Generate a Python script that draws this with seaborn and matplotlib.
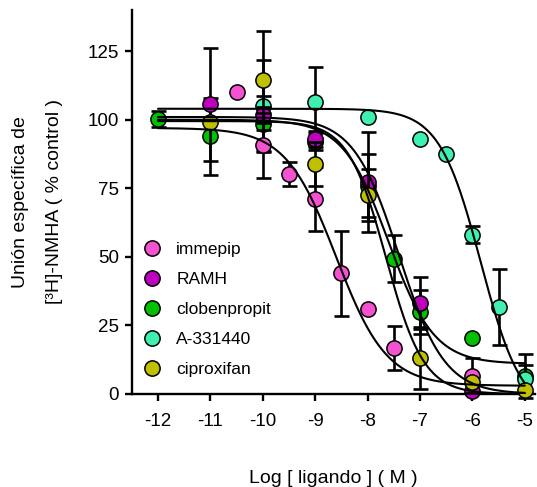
import numpy as np
import pandas as pd
import matplotlib
matplotlib.use("Agg")
import matplotlib.pyplot as plt
import seaborn as sns
from matplotlib.lines import Line2D

# ---------------- data ----------------
compounds = ["immepip", "RAMH", "clobenpropit", "A-331440", "ciproxifan"]
colors = ["#F552D2", "#C000C0", "#00C000", "#40F0B0", "#C0C000"]

immepip_x = [-10.5, -10, -9.5, -9, -8.5, -8, -7.5, -6]
immepip_y = [110, 90.6, 80.3, 71.2, 44, 31, 16.7, 6.7]
immepip_err = [0, 12, 4.3, 11.6, 15.4, 0, 8, 6.4]

ramh_x = [-11, -10, -9, -8, -7, -6]
ramh_y = [105.6, 101.8, 93, 77.2, 33.1, 1.2]
ramh_err = [20.7, 3, 3, 18.2, 9.5, 0]

clob_x = [-12, -11, -10, -9, -8, -7.5, -7, -6, -5]
clob_y = [100.3, 94, 98.5, 92, 76, 49.3, 29.8, 20.3, 6.7]
clob_err = [3, 14, 10, 3, 11.5, 8.6, 8, 0, 8]

a331_x = [-10, -9, -8, -7, -6.5, -6, -5.5, -5]
a331_y = [105, 106.4, 101, 92.8, 87.6, 58.1, 31.7, 5.5]
a331_err = [16.6, 13, 0, 0, 0, 3, 13.9, 5]

cipro_x = [-11, -10, -9, -8, -7, -6, -5]
cipro_y = [99, 114.3, 84, 72.6, 13, 4.2, 1.6]
cipro_err = [0, 18, 8, 9.5, 11.3, 0, 0]

# fitted sigmoid parameters: top, bottom, logIC50, hill slope
immepip_fit = [97, 3, -8.6, 0.9]
ramh_fit = [101, 0, -7.4, 1.0]
clob_fit = [100, 11, -7.6, 1.0]
a331_fit = [104, -8, -5.84, 1.1]
cipro_fit = [99.5, 0, -7.65, 1.2]

x_ticks = [-12, -11, -10, -9, -8, -7, -6, -5]
y_ticks = [0, 25, 50, 75, 100, 125]

series = [
    (immepip_x, immepip_y, immepip_err, immepip_fit),
    (ramh_x, ramh_y, ramh_err, ramh_fit),
    (clob_x, clob_y, clob_err, clob_fit),
    (a331_x, a331_y, a331_err, a331_fit),
    (cipro_x, cipro_y, cipro_err, cipro_fit),
]
# stacking order (bottom -> top)
zbase = {"clobenpropit": 3, "A-331440": 4, "RAMH": 5, "immepip": 6, "ciproxifan": 7}

rows = []
for name, (xs, ys, es, _) in zip(compounds, series):
    for a, b, e in zip(xs, ys, es):
        rows.append({"compound": name, "logc": a, "resp": b, "err": e})
df = pd.DataFrame(rows)


def sigmoid(x, top, bottom, logic50, hill):
    return bottom + (top - bottom) / (1 + 10 ** ((x - logic50) * hill))


# ---------------- figure ----------------
sns.set_style("ticks")
plt.rcParams["font.family"] = ["Liberation Sans", "DejaVu Sans"]
plt.rcParams.update({"text.color": "black", "axes.labelcolor": "black",
                     "xtick.color": "black", "ytick.color": "black"})

W, H = 537, 487
fig = plt.figure(figsize=(W / 100, H / 100), dpi=100)
left_px, right_px, top_px, bottom_px = 132, 535, 10, 394
ax = fig.add_axes([left_px / W, (H - bottom_px) / H,
                   (right_px - left_px) / W, (bottom_px - top_px) / H])

for name, col in zip(compounds, colors):
    z = zbase[name]
    sub = df[df["compound"] == name]
    eb = sub[sub["err"] > 0]
    ax.errorbar(eb["logc"], eb["resp"], yerr=eb["err"], fmt="none", ecolor="black",
                elinewidth=1.9, capsize=5.4, capthick=1.9, zorder=z, clip_on=False)
    sns.scatterplot(data=sub, x="logc", y="resp", color=col, s=120,
                    edgecolor="black", linewidth=1.1, zorder=z + 0.5,
                    legend=False, ax=ax, clip_on=False)

xc = np.linspace(-12, -5, 400)
for name, (xs, ys, es, fit) in zip(compounds, series):
    sns.lineplot(x=xc, y=sigmoid(xc, *fit), color="black", linewidth=1.5,
                 ax=ax, zorder=20, estimator=None)

ax.set_xlim(-12 - 26 / 52.4, -12 + (right_px - 158) / 52.4)
ax.set_ylim(0, 140)
ax.set_xticks(x_ticks)
ax.set_xticklabels([str(t) for t in x_ticks])
ax.set_yticks(y_ticks)
ax.set_yticklabels([str(t) for t in y_ticks])

for s in ["top", "right"]:
    ax.spines[s].set_visible(False)
for s in ["left", "bottom"]:
    ax.spines[s].set_linewidth(1.7)
    ax.spines[s].set_color("black")
ax.tick_params(axis="both", direction="out", length=5, width=1.7,
               labelsize=13.5, colors="black")
ax.tick_params(axis="x", pad=9)
ax.tick_params(axis="y", pad=4.5)

ax.set_xlabel("Log [ ligando ] ( M )", fontsize=14)
ax.xaxis.set_label_coords(0.5, -0.197)
ax.set_ylabel("Unión específica de\n[³H]-NMHA ( % control )", fontsize=14,
              linespacing=2.3)
ax.yaxis.set_label_coords(-0.172, 0.5)

handles = [Line2D([], [], marker="o", linestyle="", markerfacecolor=c,
                  markeredgecolor="black", markersize=11, markeredgewidth=1.1)
           for c in colors]
ax.legend(handles, compounds, loc="upper left", bbox_to_anchor=(0.028, 0.397),
          frameon=False, borderpad=0, fontsize=12.5, labelspacing=0.86,
          handlelength=1.0, handletextpad=0.9, borderaxespad=0)

fig.savefig("out.png", dpi=100)
